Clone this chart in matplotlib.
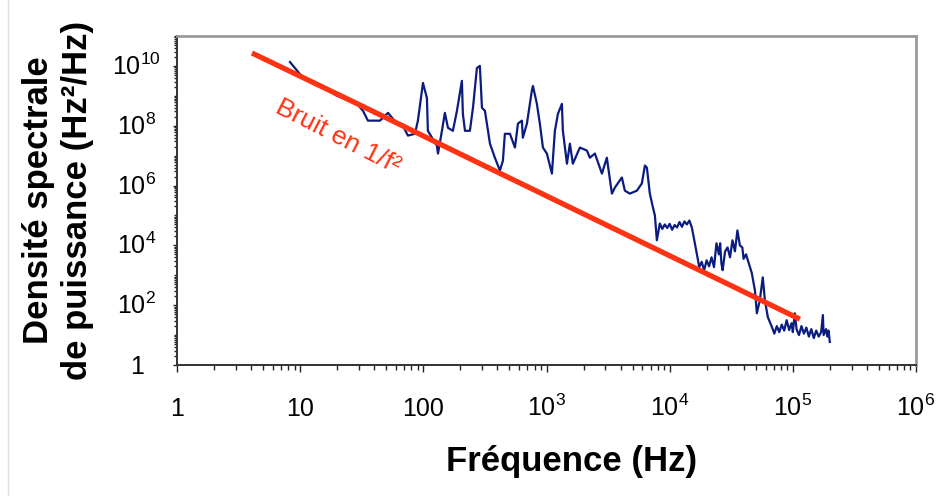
import numpy as np
import matplotlib
matplotlib.use('Agg')
import matplotlib.pyplot as plt
from matplotlib.ticker import LogLocator, NullFormatter
from matplotlib.transforms import ScaledTranslation
from matplotlib.lines import Line2D

plt.rcParams['font.family'] = ['Liberation Sans', 'DejaVu Sans']
plt.rcParams['mathtext.fontset'] = 'custom'
plt.rcParams['mathtext.rm'] = 'Liberation Sans'
plt.rcParams['mathtext.it'] = 'Liberation Sans:italic'
plt.rcParams['mathtext.bf'] = 'Liberation Sans:bold'

spec_log_f = [0.917, 1.023, 1.136, 1.299, 1.461, 1.510, 1.550, 1.648, 1.713, 1.786,
              1.834, 1.875, 1.932, 1.956, 1.997, 2.029, 2.037, 2.110, 2.119, 2.151,
              2.175, 2.200, 2.240, 2.273, 2.313, 2.321, 2.338, 2.378, 2.403, 2.435,
              2.459, 2.476, 2.500, 2.541, 2.581, 2.622, 2.646, 2.662, 2.703, 2.744,
              2.768, 2.800, 2.808, 2.841, 2.881, 2.890, 2.922, 2.946, 2.971, 3.003,
              3.044, 3.068, 3.093, 3.125, 3.133, 3.166, 3.190, 3.214, 3.271, 3.328,
              3.352, 3.393, 3.450, 3.490, 3.531, 3.555, 3.612, 3.636, 3.677, 3.734,
              3.774, 3.799, 3.815, 3.839, 3.864, 3.880, 3.896, 3.920, 3.940, 3.960,
              3.980, 4.000, 4.020, 4.040, 4.060, 4.080, 4.100, 4.120, 4.140, 4.160,
              4.180, 4.220, 4.240, 4.260, 4.280, 4.300, 4.320, 4.340, 4.360, 4.380,
              4.400, 4.410, 4.420, 4.430, 4.450, 4.470, 4.490, 4.510, 4.530, 4.550,
              4.570, 4.590, 4.600, 4.620, 4.635, 4.650, 4.667, 4.692, 4.708, 4.732,
              4.756, 4.773, 4.797, 4.830, 4.850, 4.870, 4.890, 4.910, 4.930, 4.950,
              4.970, 4.990, 5.000, 5.016, 5.030, 5.050, 5.070, 5.090, 5.110, 5.130,
              5.150, 5.170, 5.190, 5.210, 5.230, 5.244, 5.250, 5.270, 5.280, 5.290,
              5.300]
spec_log_psd = [10.13, 9.60, 9.40, 9.00, 8.73, 8.50, 8.17, 8.17, 8.43, 8.07,
                8.00, 7.67, 7.73, 8.17, 9.43, 8.93, 7.83, 7.33, 7.07, 7.83,
                8.43, 7.93, 7.83, 8.50, 9.50, 8.40, 7.83, 7.83, 8.60, 9.93,
                10.00, 8.60, 8.50, 7.40, 6.93, 6.50, 6.83, 7.73, 7.73, 7.27,
                8.07, 8.17, 7.60, 8.07, 9.17, 9.33, 8.73, 8.07, 7.27, 7.07,
                6.40, 7.83, 8.40, 8.73, 7.83, 6.73, 7.40, 6.73, 7.27, 7.17,
                6.93, 7.07, 6.40, 6.93, 5.73, 5.93, 6.27, 5.83, 5.73, 5.83,
                6.07, 6.67, 6.60, 5.73, 5.27, 5.00, 4.17, 4.73, 4.55, 4.70,
                4.58, 4.72, 4.52, 4.68, 4.60, 4.78, 4.62, 4.80, 4.70, 4.83,
                4.60, 3.73, 3.27, 3.45, 3.17, 3.50, 3.30, 3.60, 3.27, 4.07,
                3.70, 4.07, 3.40, 3.17, 3.80, 3.93, 3.60, 4.17, 3.80, 4.50,
                4.00, 3.93, 3.55, 3.70, 3.50, 3.30, 3.07, 2.50, 1.73, 2.17,
                2.93, 2.17, 1.60, 1.27, 1.05, 1.30, 1.10, 1.35, 1.15, 1.50,
                1.17, 1.40, 1.10, 1.73, 1.20, 1.00, 1.30, 1.05, 1.25, 0.95,
                1.20, 0.90, 1.15, 0.95, 1.10, 1.67, 1.00, 1.20, 0.95, 1.15,
                0.77]

# 1/f^2 noise line
fit_f = [4.06, 32.0, 316.0, 3160.0, 31600.0, 114000.0]
fit_psd = [2.7e10, 4.5e8, 4.5e6, 4.5e4, 450.0, 34.0]

x_ticks = [1, 10, 100, 1e3, 1e4, 1e5, 1e6]
x_labels = ['1', '10', '100', '$10^3$', '$10^4$', '$10^5$', '$10^6$']
y_ticks = [1, 1e2, 1e4, 1e6, 1e8, 1e10]
y_labels = ['1', '$10^2$', '$10^4$', '$10^6$', '$10^8$', '$10^{10}$']

fig = plt.figure(figsize=(9.48, 4.96), dpi=100)
ax = fig.add_axes([177/948, 1-365/496, (916-177)/948, (365-36)/496])

spec_f = 10 ** np.array(spec_log_f)
spec_psd = 10 ** np.array(spec_log_psd)
ax.plot(spec_f, spec_psd, color='#0b1c80', lw=1.6, zorder=2)
ax.plot(fit_f, fit_psd, color='#ff3311', lw=3.8, solid_capstyle='butt', zorder=3)

ax.set_xscale('log')
ax.set_yscale('log')
ax.set_xlim(1, 1e6)
ax.set_ylim(1, 1e11)

ax.set_xticks(x_ticks, x_labels, va='baseline')
ax.set_yticks(y_ticks, y_labels, ha='center', va='baseline')
ax.xaxis.set_minor_locator(LogLocator(base=10, subs=np.arange(2, 10), numticks=100))
ax.yaxis.set_minor_locator(LogLocator(base=10, subs=np.arange(1, 10), numticks=100))
ax.xaxis.set_minor_formatter(NullFormatter())
ax.yaxis.set_minor_formatter(NullFormatter())

ax.tick_params(axis='x', which='major', direction='out', length=5, width=1, pad=32, labelsize=18, colors='#222222', labelcolor='black')
ax.tick_params(axis='x', which='minor', direction='out', length=3.5, width=1, colors='#222222')
ax.tick_params(axis='y', which='major', direction='out', length=3, width=1, pad=26, labelsize=18, colors='#222222', labelcolor='black')
ax.tick_params(axis='y', which='minor', direction='out', length=2.5, width=1, colors='#222222')

off = ScaledTranslation(0, -6.5/72, fig.dpi_scale_trans)
for lab in ax.get_yticklabels():
    lab.set_transform(lab.get_transform() + off)

for s in ['left', 'bottom']:
    ax.spines[s].set_color('#333333')
    ax.spines[s].set_linewidth(1.4)
for s in ['top', 'right']:
    ax.spines[s].set_color('#9a9a9a')
    ax.spines[s].set_linewidth(2)

ax.text(20.3, 4.3e7, 'Bruit en 1/f²', color='#ff3311', fontsize=19,
        rotation=-27, ha='center', va='center', rotation_mode='anchor', zorder=4)

fig.text(572/948, 1-461/496, 'Fréquence (Hz)', fontsize=25, fontweight='bold',
         ha='center', va='center')
fig.text(58/948, 1-200/496, 'Densité spectrale\nde puissance (Hz²/Hz)', fontsize=25,
         fontweight='bold', rotation=90, ha='center', va='center',
         multialignment='center', linespacing=1.2)

fig.add_artist(Line2D([7.5/948, 7.5/948], [0, 1], transform=fig.transFigure,
                      color='#dddddd', lw=1))

fig.savefig('out.png', dpi=100)
